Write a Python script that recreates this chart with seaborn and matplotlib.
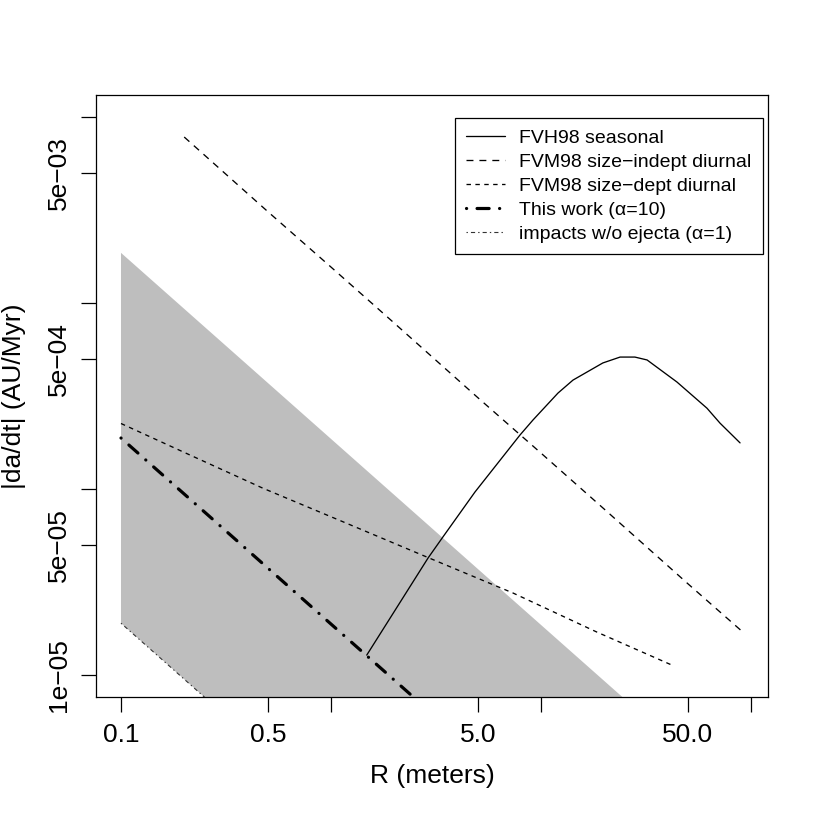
import numpy as np
import pandas as pd
import seaborn as sns
import matplotlib
matplotlib.use("Agg")
import matplotlib.pyplot as plt

# values
R_band = [0.1, 1.0, 100.0]
band_lo = [1.9e-5, 1.9e-6, 1.9e-8]
band_hi = [1.86e-3, 1.86e-4, 1.86e-6]

R_seasonal = [1.48, 2.9, 3.41, 4.85, 7.94, 9.16, 12.05, 14.2, 19.7, 23.8, 28.0, 32.0, 44.4, 61.7, 71.2, 88.7]
seasonal = [1.28e-5, 4.26e-5, 5.52e-5, 9.64e-5, 1.95e-4, 2.35e-4, 3.28e-4, 3.85e-4,
            4.76e-4, 5.12e-4, 5.12e-4, 4.94e-4, 3.76e-4, 2.72e-4, 2.26e-4, 1.77e-4]

R_indep = [0.2, 0.5, 1, 2, 5, 10, 20, 50, 90]
indep = [7.8e-3, 3.1e-3, 1.56e-3, 7.8e-4, 3.1e-4, 1.56e-4, 7.8e-5, 3.1e-5, 1.73e-5]

R_dept = [0.1, 0.189, 0.474, 1.18, 2.93, 7.36, 18.5, 42.1]
dept = [2.25e-4, 1.62e-4, 1.01e-4, 6.56e-5, 4.26e-5, 2.76e-5, 1.70e-5, 1.13e-5]

R_this = [0.1, 1.0, 10.0]
this_work = [1.88e-4, 1.88e-5, 1.88e-6]

x_ticks = [0.1, 0.5, 1, 5, 10, 50, 100]
x_labels = ['0.1', '0.5', '', '5.0', '', '50.0', '']
y_ticks = [1e-5, 5e-5, 1e-4, 5e-4, 1e-3, 5e-3, 1e-2]
y_labels = ['1e\u221205', '5e\u221205', '', '5e\u221204', '', '5e\u221203', '']

sns.set_style("ticks")
plt.rcParams['font.family'] = ['Liberation Sans', 'DejaVu Sans']
plt.rcParams['lines.scale_dashes'] = False
for key in ['text.color', 'axes.labelcolor', 'xtick.color', 'ytick.color', 'axes.edgecolor']:
    plt.rcParams[key] = 'black'

fig = plt.figure(figsize=(8.17, 8.17), dpi=100)
ax = fig.add_axes([96 / 817, 120 / 817, 672 / 817, 602 / 817])

ax.fill_between(R_band, band_lo, band_hi, color='#BEBEBE', lw=0, zorder=1)

lw_thin = 0.95
sns.lineplot(x=R_seasonal, y=seasonal, ax=ax, color='black', lw=lw_thin,
             label='FVH98 seasonal', zorder=3)
sns.lineplot(x=R_indep, y=indep, ax=ax, color='black', lw=lw_thin,
             linestyle=(0, (5.0, 4.3)), label='FVM98 size\u2212indept diurnal', zorder=3)
sns.lineplot(x=R_dept, y=dept, ax=ax, color='black', lw=lw_thin,
             linestyle=(0, (3.2, 3.2)), label='FVM98 size\u2212dept diurnal', zorder=3)
sns.lineplot(x=R_this, y=this_work, ax=ax, color='black', lw=2.3,
             linestyle=(0, (0.1, 7.5, 8.7, 7.5)), dash_capstyle='round',
             label='This work (\u03b1=10)', zorder=4)
sns.lineplot(x=R_band, y=band_lo, ax=ax, color='#333333', lw=0.8,
             linestyle=(0, (1.0, 2.2, 3.0, 2.2)), label='impacts w/o ejecta (\u03b1=1)', zorder=3)

ax.set_xscale('log')
ax.set_yscale('log')
ax.set_xlim(10 ** -1.119, 10 ** 2.081)
ax.set_ylim(10 ** -5.118, 10 ** -1.882)

ax.set_xticks(x_ticks)
ax.set_xticklabels(x_labels)
ax.set_yticks(y_ticks)
ax.set_yticklabels(y_labels, rotation=90, va='center')
ax.minorticks_off()
ax.tick_params(axis='both', which='major', direction='out', length=11, width=0.9,
               labelsize=19, color='black', labelcolor='black')
ax.tick_params(axis='x', pad=8)
ax.tick_params(axis='y', pad=7)

for s in ax.spines.values():
    s.set_visible(True)
    s.set_linewidth(0.9)
    s.set_color('black')

ax.set_xlabel('R (meters)', fontsize=19, labelpad=12, color='black')
ax.set_ylabel('|da/dt| (AU/Myr)', fontsize=19, labelpad=15, color='black')

leg = ax.legend(loc='upper right', bbox_to_anchor=(0.9926, 0.9618), borderaxespad=0,
                fontsize=14, frameon=True, fancybox=False, edgecolor='black',
                framealpha=1, handlelength=2.0, handletextpad=0.75, labelspacing=0.33,
                borderpad=0.58)
leg.get_frame().set_linewidth(0.9)
for t in leg.get_texts():
    t.set_color('black')

fig.savefig('out.png', dpi=100)
